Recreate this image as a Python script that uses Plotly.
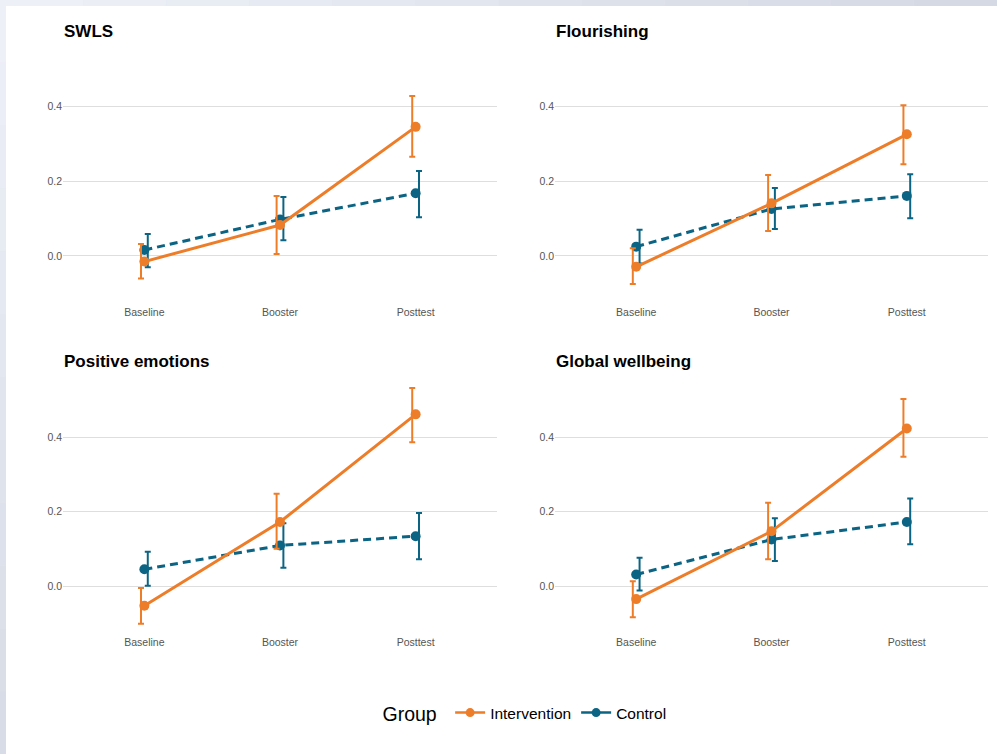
import plotly.graph_objects as go

# ---- data -------------------------------------------------------------
timepoints = ["Baseline", "Booster", "Posttest"]
outcomes = ["SWLS", "Flourishing", "Positive emotions", "Global wellbeing"]
groups = ["Intervention", "Control"]
y_ticks = [0.0, 0.2, 0.4]

# estimated means and 95% CI bounds per outcome (Baseline, Booster, Posttest)
swls_int = [-0.015, 0.083, 0.346]
swls_int_lo = [-0.060, 0.005, 0.266]
swls_int_hi = [0.032, 0.161, 0.429]
swls_ctl = [0.016, 0.098, 0.168]
swls_ctl_lo = [-0.030, 0.042, 0.104]
swls_ctl_hi = [0.059, 0.158, 0.228]

flour_int = [-0.029, 0.141, 0.326]
flour_int_lo = [-0.075, 0.067, 0.246]
flour_int_hi = [0.021, 0.217, 0.404]
flour_ctl = [0.025, 0.126, 0.161]
flour_ctl_lo = [-0.020, 0.072, 0.101]
flour_ctl_hi = [0.070, 0.182, 0.219]

pos_int = [-0.053, 0.172, 0.461]
pos_int_lo = [-0.101, 0.100, 0.386]
pos_int_hi = [-0.005, 0.248, 0.532]
pos_ctl = [0.045, 0.109, 0.134]
pos_ctl_lo = [0.001, 0.049, 0.072]
pos_ctl_hi = [0.092, 0.169, 0.196]

glob_int = [-0.035, 0.147, 0.423]
glob_int_lo = [-0.084, 0.072, 0.347]
glob_int_hi = [0.013, 0.224, 0.502]
glob_ctl = [0.031, 0.125, 0.172]
glob_ctl_lo = [-0.012, 0.067, 0.112]
glob_ctl_hi = [0.076, 0.182, 0.235]

panels = [
    (swls_int, swls_int_lo, swls_int_hi, swls_ctl, swls_ctl_lo, swls_ctl_hi),
    (flour_int, flour_int_lo, flour_int_hi, flour_ctl, flour_ctl_lo, flour_ctl_hi),
    (pos_int, pos_int_lo, pos_int_hi, pos_ctl, pos_ctl_lo, pos_ctl_hi),
    (glob_int, glob_int_lo, glob_int_hi, glob_ctl, glob_ctl_lo, glob_ctl_hi),
]

# ---- styling ----------------------------------------------------------
W, H = 997, 754
ORANGE = "#EE7D2A"
TEAL = "#0B6483"
FONT = "Liberation Sans, Arial, sans-serif"
TICK_COLOR = "#555555"
GRID_COLOR = "#DEDEDE"
DODGE = 0.025
Y_RANGE = [-0.13, 0.56]

# panel boxes in pixels: (left, right, top, bottom)
boxes = [
    (63, 497, 47, 304.5),
    (555, 988, 47, 304.5),
    (63, 497, 377.5, 634.5),
    (555, 988, 377.5, 634.5),
]

fig = go.Figure()
layout = {}
annotations = []

x_pos = list(range(len(timepoints)))

for i, (box, data) in enumerate(zip(boxes, panels)):
    n = "" if i == 0 else str(i + 1)
    xa, ya = "x" + n, "y" + n
    left, right, top, bottom = box
    layout["xaxis" + n] = dict(
        domain=[left / W, right / W],
        range=[-0.6, len(timepoints) - 0.4],
        tickvals=x_pos, ticktext=timepoints,
        showgrid=False, zeroline=False, showline=False, ticks="",
        tickfont=dict(family=FONT, size=10.5, color=TICK_COLOR),
        anchor=ya, fixedrange=True,
    )
    layout["yaxis" + n] = dict(
        domain=[1 - bottom / H, 1 - top / H],
        range=Y_RANGE,
        tickvals=y_ticks, ticktext=[f"{v:.1f}" for v in y_ticks],
        showgrid=True, gridcolor=GRID_COLOR, gridwidth=1,
        zeroline=False, showline=False, ticks="",
        tickfont=dict(family=FONT, size=10.5, color=TICK_COLOR),
        anchor=xa, fixedrange=True,
    )
    annotations.append(dict(
        text=f"<b>{outcomes[i]}</b>", x=(left - 1.5) / W, y=1 - (top - 16) / H,
        xref="paper", yref="paper", xanchor="left", yanchor="middle",
        showarrow=False, font=dict(family=FONT, size=17, color="black"),
    ))

    m_i, lo_i, hi_i, m_c, lo_c, hi_c = data
    series = [
        (m_c, lo_c, hi_c, TEAL, dict(dash="8px,5px", width=3), +DODGE),
        (m_i, lo_i, hi_i, ORANGE, dict(width=3), -DODGE),
    ]
    for m, lo, hi, col, line, off in series:
        # confidence interval bars, dodged slightly per group
        fig.add_trace(go.Scatter(
            x=[x + off for x in x_pos], y=m, mode="markers",
            marker=dict(size=1, opacity=0),
            error_y=dict(
                type="data", symmetric=False,
                array=[h - v for h, v in zip(hi, m)],
                arrayminus=[v - l for v, l in zip(m, lo)],
                color=col, thickness=2, width=3,
            ),
            xaxis=xa, yaxis=ya, showlegend=False, hoverinfo="skip",
        ))
        # group means joined across timepoints
        fig.add_trace(go.Scatter(
            x=x_pos, y=m, mode="lines+markers",
            line=dict(color=col, **line),
            marker=dict(color=col, size=10),
            xaxis=xa, yaxis=ya, showlegend=False,
        ))

# legend keys
for g, col in zip(groups, [ORANGE, TEAL]):
    fig.add_trace(go.Scatter(
        x=[None], y=[None], mode="lines+markers", name=g,
        line=dict(color=col, width=2.5), marker=dict(color=col, size=9),
        showlegend=True,
    ))


def mix(c0, c1, t):
    a = [int(c0[k:k + 2], 16) for k in (1, 3, 5)]
    b = [int(c1[k:k + 2], 16) for k in (1, 3, 5)]
    return "#" + "".join(f"{round(p + (q - p) * t):02X}" for p, q in zip(a, b))


# pale shaded frame along the top and left edges, white page inside
shapes = []
STEPS = 12
for s in range(STEPS):
    t = (s + 0.5) / STEPS
    shapes.append(dict(
        type="rect", xref="paper", yref="paper",
        x0=s / STEPS, x1=(s + 1) / STEPS, y0=1 - 6 / H, y1=1.0,
        fillcolor=mix("#EEF1F8", "#D3D8E2", t), line=dict(width=0), layer="below",
    ))
    shapes.append(dict(
        type="rect", xref="paper", yref="paper",
        x0=0.0, x1=6 / W, y0=1 - (s + 1) / STEPS, y1=1 - s / STEPS,
        fillcolor=mix("#EEF1F8", "#D6DBE5", t), line=dict(width=0), layer="below",
    ))
shapes.append(dict(
    type="rect", xref="paper", yref="paper",
    x0=6 / W, x1=1.0, y0=0.0, y1=1 - 6 / H,
    fillcolor="white", line=dict(width=0), layer="below",
))

fig.update_layout(
    width=W, height=H,
    margin=dict(l=0, r=0, t=0, b=0),
    paper_bgcolor="#E3E8F1",
    plot_bgcolor="rgba(0,0,0,0)",
    shapes=shapes,
    annotations=annotations,
    showlegend=True,
    legend=dict(
        orientation="h", x=526 / W, y=1 - 714 / H,
        xanchor="center", yanchor="middle",
        title=dict(text="Group ", font=dict(family=FONT, size=19.5, color="black")),
        font=dict(family=FONT, size=15.5, color="black"),
        itemwidth=30, bgcolor="rgba(0,0,0,0)",
    ),
    **layout,
)

fig.write_html("out.html")
